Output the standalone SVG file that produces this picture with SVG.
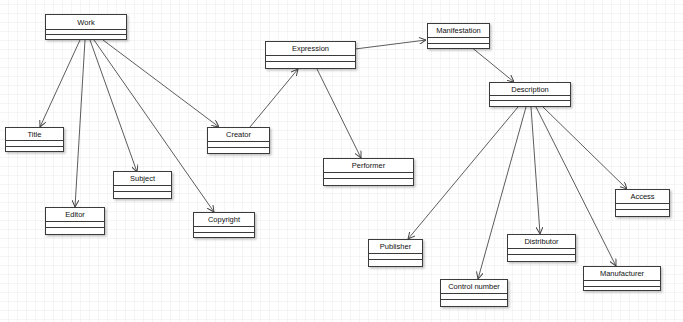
<svg xmlns="http://www.w3.org/2000/svg" width="683" height="322" viewBox="0 0 683 322">
<defs>
<pattern id="grid" x="0" y="5" width="9" height="9" patternUnits="userSpaceOnUse">
<path d="M9 0V9M0 9H9" fill="none" stroke="#ebebeb" stroke-width="1"/>
</pattern>
<marker id="arr" viewBox="0 0 10 10" refX="10" refY="5" markerWidth="7" markerHeight="7" markerUnits="userSpaceOnUse" orient="auto">
<path d="M0 0L10 5L0 10" fill="none" stroke="#444" stroke-width="1.4"/>
</marker>
<filter id="sh" x="-10%" y="-20%" width="130%" height="160%">
<feDropShadow dx="1.5" dy="1.5" stdDeviation="0.8" flood-color="#000" flood-opacity="0.25"/>
</filter>
</defs>
<style>
.box{fill:#fff;stroke:#3a3a3a;stroke-width:1;filter:url(#sh)}
.sep{stroke:#3a3a3a;stroke-width:1}
.lbl{font-family:"Liberation Sans",Arial,sans-serif;font-size:7.5px;fill:#111;text-anchor:middle;dominant-baseline:central}
.con{stroke:#4a4a4a;stroke-width:0.9;fill:none;marker-end:url(#arr)}
</style>
<rect width="683" height="322" fill="#fff"/>
<rect width="683" height="322" fill="url(#grid)"/>
<g id="connectors">
<line class="con" x1="80" y1="40" x2="40" y2="127"/>
<line class="con" x1="85" y1="40" x2="75" y2="207"/>
<line class="con" x1="90" y1="40" x2="137" y2="172"/>
<line class="con" x1="94" y1="40" x2="214" y2="212"/>
<line class="con" x1="103" y1="40" x2="219" y2="127"/>
<line class="con" x1="250" y1="127" x2="298" y2="69"/>
<line class="con" x1="355" y1="49" x2="426" y2="40"/>
<line class="con" x1="317" y1="69" x2="361" y2="158"/>
<line class="con" x1="473" y1="48.5" x2="514" y2="82"/>
<line class="con" x1="518" y1="107" x2="408" y2="239"/>
<line class="con" x1="526" y1="107" x2="478" y2="279"/>
<line class="con" x1="531" y1="107" x2="540" y2="234"/>
<line class="con" x1="536" y1="107" x2="616" y2="266"/>
<line class="con" x1="543" y1="107" x2="627" y2="189"/>
</g>
<g id="work"><rect class="box" x="45.5" y="14.5" width="81" height="25"/><line class="sep" x1="45.5" y1="29.5" x2="126.5" y2="29.5"/><line class="sep" x1="45.5" y1="34.5" x2="126.5" y2="34.5"/><text class="lbl" x="86" y="22">Work</text></g>
<g id="title"><rect class="box" x="5.5" y="127.5" width="58" height="24"/><line class="sep" x1="5.5" y1="140.5" x2="63.5" y2="140.5"/><line class="sep" x1="5.5" y1="146.5" x2="63.5" y2="146.5"/><text class="lbl" x="34.5" y="134">Title</text></g>
<g id="editor"><rect class="box" x="45.5" y="207.5" width="59" height="27"/><line class="sep" x1="45.5" y1="221.5" x2="104.5" y2="221.5"/><line class="sep" x1="45.5" y1="227.5" x2="104.5" y2="227.5"/><text class="lbl" x="75" y="214.5">Editor</text></g>
<g id="subject"><rect class="box" x="113.5" y="171.5" width="58" height="27"/><line class="sep" x1="113.5" y1="185.5" x2="171.5" y2="185.5"/><line class="sep" x1="113.5" y1="191.5" x2="171.5" y2="191.5"/><text class="lbl" x="142.5" y="178.5">Subject</text></g>
<g id="copyright"><rect class="box" x="193.5" y="212.5" width="61" height="25"/><line class="sep" x1="193.5" y1="226.5" x2="254.5" y2="226.5"/><line class="sep" x1="193.5" y1="232.5" x2="254.5" y2="232.5"/><text class="lbl" x="224" y="219.5">Copyright</text></g>
<g id="creator"><rect class="box" x="207.5" y="127.5" width="62" height="26"/><line class="sep" x1="207.5" y1="141.5" x2="269.5" y2="141.5"/><line class="sep" x1="207.5" y1="147.5" x2="269.5" y2="147.5"/><text class="lbl" x="238.5" y="134.5">Creator</text></g>
<g id="expression"><rect class="box" x="265.5" y="41.5" width="90" height="27"/><line class="sep" x1="265.5" y1="55.5" x2="355.5" y2="55.5"/><line class="sep" x1="265.5" y1="61.5" x2="355.5" y2="61.5"/><text class="lbl" x="310.5" y="48.5">Expression</text></g>
<g id="performer"><rect class="box" x="323.5" y="158.5" width="90" height="27"/><line class="sep" x1="323.5" y1="172.5" x2="413.5" y2="172.5"/><line class="sep" x1="323.5" y1="178.5" x2="413.5" y2="178.5"/><text class="lbl" x="368.5" y="165.5">Performer</text></g>
<g id="manifestation"><rect class="box" x="427.5" y="23.5" width="62" height="25"/><line class="sep" x1="427.5" y1="37.5" x2="489.5" y2="37.5"/><line class="sep" x1="427.5" y1="43.5" x2="489.5" y2="43.5"/><text class="lbl" x="458.5" y="30.5">Manifestation</text></g>
<g id="description"><rect class="box" x="489.5" y="82.5" width="81" height="24"/><line class="sep" x1="489.5" y1="95.5" x2="570.5" y2="95.5"/><line class="sep" x1="489.5" y1="100.5" x2="570.5" y2="100.5"/><text class="lbl" x="530" y="89">Description</text></g>
<g id="access"><rect class="box" x="615.5" y="189.5" width="54" height="27"/><line class="sep" x1="615.5" y1="203.5" x2="669.5" y2="203.5"/><line class="sep" x1="615.5" y1="209.5" x2="669.5" y2="209.5"/><text class="lbl" x="642.5" y="196.5">Access</text></g>
<g id="publisher"><rect class="box" x="368.5" y="239.5" width="54" height="27"/><line class="sep" x1="368.5" y1="253.5" x2="422.5" y2="253.5"/><line class="sep" x1="368.5" y1="259.5" x2="422.5" y2="259.5"/><text class="lbl" x="395.5" y="246.5">Publisher</text></g>
<g id="control-number"><rect class="box" x="440.5" y="279.5" width="67" height="27"/><line class="sep" x1="440.5" y1="293.5" x2="507.5" y2="293.5"/><line class="sep" x1="440.5" y1="299.5" x2="507.5" y2="299.5"/><text class="lbl" x="474" y="286.5">Control number</text></g>
<g id="distributor"><rect class="box" x="507.5" y="234.5" width="68" height="27"/><line class="sep" x1="507.5" y1="248.5" x2="575.5" y2="248.5"/><line class="sep" x1="507.5" y1="254.5" x2="575.5" y2="254.5"/><text class="lbl" x="541.5" y="241.5">Distributor</text></g>
<g id="manufacturer"><rect class="box" x="583.5" y="266.5" width="77" height="24"/><line class="sep" x1="583.5" y1="280.5" x2="660.5" y2="280.5"/><line class="sep" x1="583.5" y1="286.5" x2="660.5" y2="286.5"/><text class="lbl" x="622" y="273.5">Manufacturer</text></g>
</svg>
